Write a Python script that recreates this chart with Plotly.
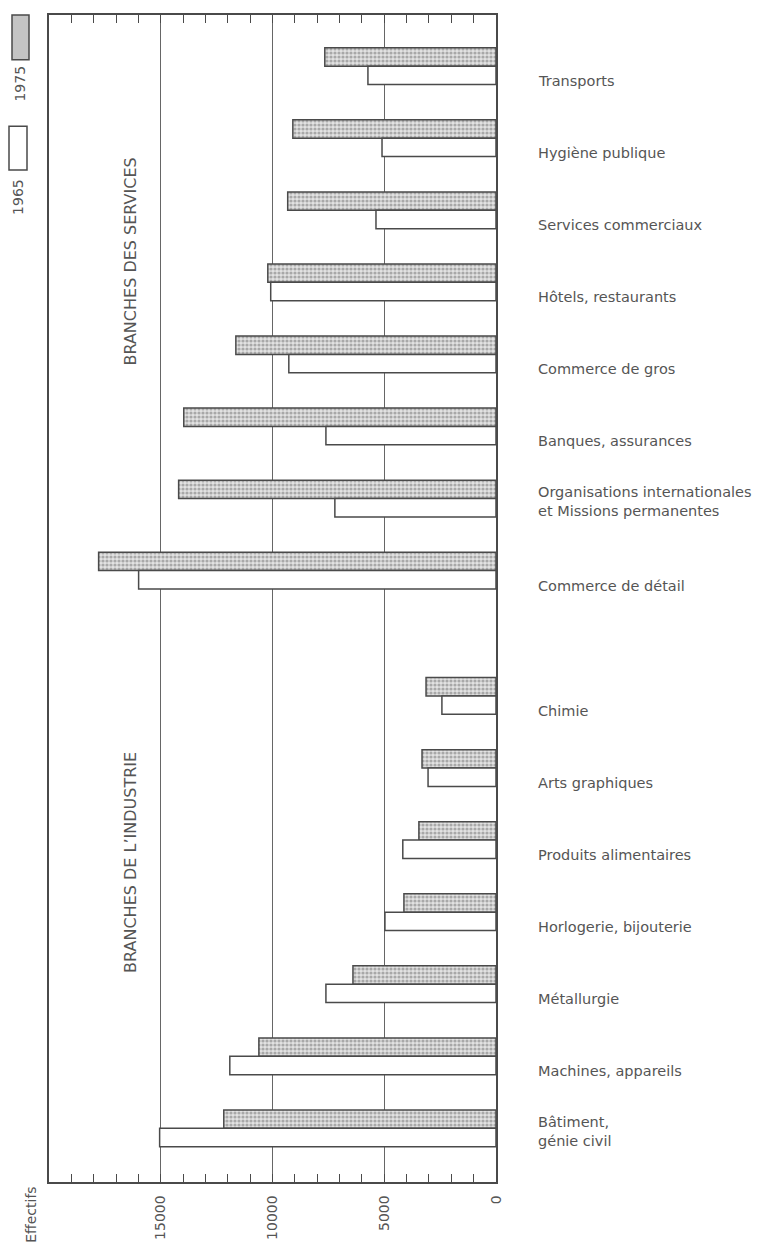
import plotly.graph_objects as go

# ---- data ----
services = ["Transports", "Hygiène publique", "Services commerciaux", "Hôtels, restaurants",
            "Commerce de gros", "Banques, assurances",
            "Organisations internationales<br>et Missions permanentes", "Commerce de détail"]
services_1975 = [7660, 9090, 9320, 10210, 11640, 13970, 14200, 17780]
services_1965 = [5730, 5100, 5370, 10080, 9270, 7610, 7210, 15990]

industry = ["Chimie", "Arts graphiques", "Produits alimentaires", "Horlogerie, bijouterie",
            "Métallurgie", "Machines, appareils", "Bâtiment,<br>génie civil"]
industry_1975 = [3130, 3310, 3450, 4120, 6400, 10610, 12180]
industry_1965 = [2420, 3040, 4170, 4970, 7610, 11910, 15050]

x_ticks = [0, 5000, 10000, 15000]
x_ticklabels = ["0", "5000", "10000", "15000"]
group_titles = ["BRANCHES DES SERVICES", "BRANCHES DE L\u2019INDUSTRIE"]
legend_years = ["1975", "1965"]

# ---- layout constants ----
W, H = 758, 1252
L, R, T, B = 49, 262, 15, 63
GROUP_GAP = 1.74  # extra category slots between groups

labels = services + industry
v1975 = services_1975 + industry_1975
v1965 = services_1965 + industry_1965
pos = list(range(len(services))) + [len(services) - 1 + GROUP_GAP + i for i in range(len(industry))]

ink = "#4a4a4a"
txt = "#555555"
FONT = "DejaVu Sans"

fig = go.Figure()
fig.add_trace(go.Bar(
    y=pos, x=v1975, orientation="h", name="1975",
    marker=dict(color="white", line=dict(color=ink, width=1.5),
                pattern=dict(shape=".", fgcolor="#6e6e6e", bgcolor="#e2e2e2", size=4, solidity=0.5)),
    showlegend=False,
))
fig.add_trace(go.Bar(
    y=pos, x=v1965, orientation="h", name="1965",
    marker=dict(color="white", line=dict(color=ink, width=1.5)),
    showlegend=False,
))

pw = W - L - R
ph = H - T - B


def px_x(px):
    return (px - L) / pw


def px_y(py):
    return 1 - (py - T) / ph


# category labels on the right
for p, lab in zip(pos, labels):
    two = "<br>" in lab
    fig.add_annotation(x=1, xref="paper", y=p, yref="y", text=lab, showarrow=False,
                       xanchor="left", yanchor="middle", xshift=40, yshift=(-3 if two else -15),
                       align="left", font=dict(family=FONT, size=14.5, color=txt))

# group titles
for title, cy in zip(group_titles, [263, 868]):
    fig.add_annotation(x=px_x(131), xref="paper", y=px_y(cy), yref="paper", text=title,
                       showarrow=False, textangle=-90, xanchor="center", yanchor="middle",
                       font=dict(family=FONT, size=16, color=txt))

# legend (rotated)
fig.add_shape(type="rect", xref="paper", yref="paper",
              x0=px_x(12), x1=px_x(29), y0=px_y(60), y1=px_y(15),
              fillcolor="#c4c4c4", line=dict(color=ink, width=1.5))
fig.add_shape(type="rect", xref="paper", yref="paper",
              x0=px_x(9), x1=px_x(27), y0=px_y(171), y1=px_y(127),
              fillcolor="white", line=dict(color=ink, width=1.5))
for yr, cx, cy in zip(legend_years, [20, 18], [84, 198]):
    fig.add_annotation(x=px_x(cx), xref="paper", y=px_y(cy), yref="paper", text=yr,
                       showarrow=False, textangle=-90, xanchor="center", yanchor="middle",
                       font=dict(family=FONT, size=14, color=txt))

# axis title
fig.add_annotation(x=px_x(31), xref="paper", y=px_y(1222), yref="paper", text="Effectifs",
                   showarrow=False, textangle=-90, xanchor="center", yanchor="middle",
                   font=dict(family=FONT, size=14, color=txt))

fig.update_layout(
    width=W, height=H,
    margin=dict(l=L, r=R, t=T, b=B),
    plot_bgcolor="white", paper_bgcolor="white",
    barmode="group", bargap=0.49, bargroupgap=0,
    font=dict(family=FONT, color=txt),
)
fig.update_xaxes(
    range=[20000, 0], tickvals=x_ticks, ticktext=x_ticklabels, tickangle=-90,
    tickfont=dict(family=FONT, size=14, color=txt),
    ticks="inside", ticklen=8, tickcolor=ink,
    minor=dict(dtick=1000, ticks="inside", ticklen=8, tickcolor=ink, showgrid=False),
    showgrid=True, gridcolor="#666666", gridwidth=1,
    showline=True, linecolor=ink, linewidth=1.5, mirror="allticks",
    zeroline=False, ticklabelstandoff=6,
)
fig.update_yaxes(
    range=[pos[-1] + 0.745, -0.71], showticklabels=False, ticks="", showgrid=False,
    zeroline=False, showline=True, linecolor=ink, linewidth=1.5, mirror=True,
)

fig.write_html("out.html", config={"displayModeBar": False},
               post_script="document.body.style.margin='0px';")
